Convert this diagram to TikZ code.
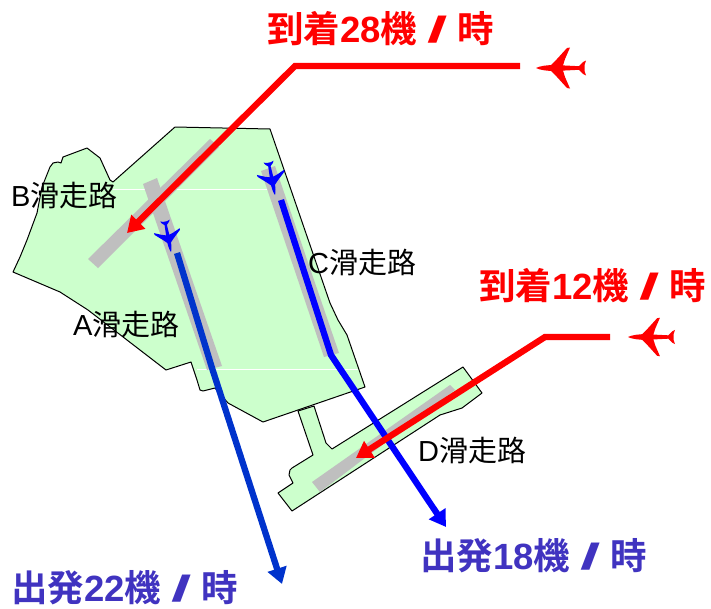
\documentclass[tikz,border=0pt]{standalone}
\usepackage{fontspec}
\usepackage{graphicx}
\usetikzlibrary{arrows.meta}
\setmainfont{Liberation Sans}
\newfontfamily\cjk[BoldFont=* Bold]{Noto Sans CJK JP}
\definecolor{landgreen}{HTML}{CCFFCC}
\definecolor{runwaygrey}{HTML}{BFBFBF}
\definecolor{deptext}{HTML}{4033C0}
\definecolor{depblue}{HTML}{0033CC}
\tikzset{
  land/.style={fill=landgreen,draw=black,line width=1pt,line join=round},
  runway/.style={fill=runwaygrey,draw=none},
  seam/.style={draw=white,line width=0.5pt},
  arrline/.style={line width=6.3pt,line join=miter,-{Triangle[length=16pt,width=19pt]}},
  arrivalline/.style={arrline,draw=red},
  depline/.style={arrline,draw=blue},
  depAline/.style={arrline,draw=depblue},
  rwlabel/.style={anchor=base west,inner sep=0pt,font=\fontsize{29}{32}\selectfont},
  flowlabel/.style={anchor=base west,inner sep=0pt,font=\fontsize{36.5}{40}\selectfont\bfseries},
  planeicon/.pic={
    \fill (0,0) -- (3,-1.2) -- (8,-2.3) -- (15,-3) -- (21,-9) -- (31,-20) -- (34,-20.5) -- (29,-9) -- (27,-2.6)
      -- (43,-1.8) -- (47,-6) -- (50,-7.5) -- (48.5,-3) -- (48.5,3) -- (50,7.5) -- (47,6) -- (43,1.8)
      -- (27,2.6) -- (29,9) -- (34,20.5) -- (31,20) -- (21,9) -- (15,3) -- (8,2.3) -- (3,1.2) -- cycle;
  }
}
\newcommand{\perhour}{\hspace{10pt}\scalebox{2}[1]{/}\hspace{10pt}{\cjk 時}}
\begin{document}
\begin{tikzpicture}[x=1pt,y=-1pt]
\useasboundingbox (0,0) rectangle (711,608);
% taxiway and D runway apron
\path[land] (298,411) -- (313,455) -- (292,468) -- (290,470) -- (289,475) -- (293,483) -- (278,493) -- (292,511)
  -- (440,415) -- (462,408) -- (482,393) -- (463,367) -- (332,449) -- (326,443) -- (314,406) -- cycle;
% main airfield
\path[land] (175,127) -- (270,129) -- (330,303) -- (338,320) -- (347,335) -- (365,387) -- (263,422) -- (228,403)
  -- (215,388) -- (203,391) -- (200,390) -- (197,380) -- (191,362) -- (166,370) -- (88,310) -- (60,292)
  -- (13,272) -- (20,257) -- (27,240) -- (37,213) -- (42,187) -- (50,167) -- (53,163) -- (58,162) -- (61,163)
  -- (63,157) -- (87,148) -- (100,158) -- (110,180) -- (113,182) -- cycle;
\draw[seam] (113,189) -- (270,189);
\draw[seam] (197,369) -- (358,369);
% runways
\fill[runway] (210,139) -- (219,147) -- (98,268) -- (88,259) -- cycle;
\fill[runway] (143,184) -- (157,178) -- (222,366) -- (207,370) -- cycle;
\fill[runway] (261,171) -- (275,166) -- (339,353) -- (324,357) -- cycle;
\fill[runway] (450,385) -- (455,390) -- (320,492) -- (312,482) -- cycle;
% flow lines
\coordinate (arrA) at (520,66);
\coordinate (arrAbend) at (295,66);
\coordinate (arrAend) at (127,233);
\coordinate (arrB) at (610,337);
\coordinate (arrBbend) at (545,337);
\coordinate (arrBend) at (356,458);
\coordinate (depA) at (177,253);
\coordinate (depAbend) at (212,368);
\coordinate (depAend) at (282,584);
\coordinate (depC) at (281,200);
\coordinate (depCbend) at (331,355);
\coordinate (depCend) at (446,527);
\draw[depAline] (depA) -- (depAbend) -- (depAend);
\draw[depline] (depC) -- (depCbend) -- (depCend);
\draw[arrivalline] (arrA) -- (arrAbend) -- (arrAend);
\draw[arrivalline] (arrB) -- (arrBbend) -- (arrBend);
% aircraft
\pic[red] at (536,68) {planeicon};
\pic[red,scale=0.94] at (628,337) {planeicon};
\pic[blue,rotate=101,scale=0.68] at (275,195) {planeicon};
\pic[blue,rotate=101,scale=0.64] at (171,252) {planeicon};
% labels
\node[rwlabel] (lblB) at (11,206) {B{\cjk 滑走路}};
\node[rwlabel] (lblC) at (308,273) {C{\cjk 滑走路}};
\node[rwlabel] (lblA) at (73,335) {A{\cjk 滑走路}};
\node[rwlabel] (lblD) at (418,461) {D{\cjk 滑走路}};
\node[flowlabel,text=red] (lblArrA) at (267,42) {{\cjk 到着}28{\cjk 機}\perhour};
\node[flowlabel,text=red] (lblArrB) at (479,299) {{\cjk 到着}12{\cjk 機}\perhour};
\node[flowlabel,text=deptext] (lblDepA) at (11,601) {{\cjk 出発}22{\cjk 機}\perhour};
\node[flowlabel,text=deptext] (lblDepB) at (420,569) {{\cjk 出発}18{\cjk 機}\perhour};
\end{tikzpicture}
\end{document}
